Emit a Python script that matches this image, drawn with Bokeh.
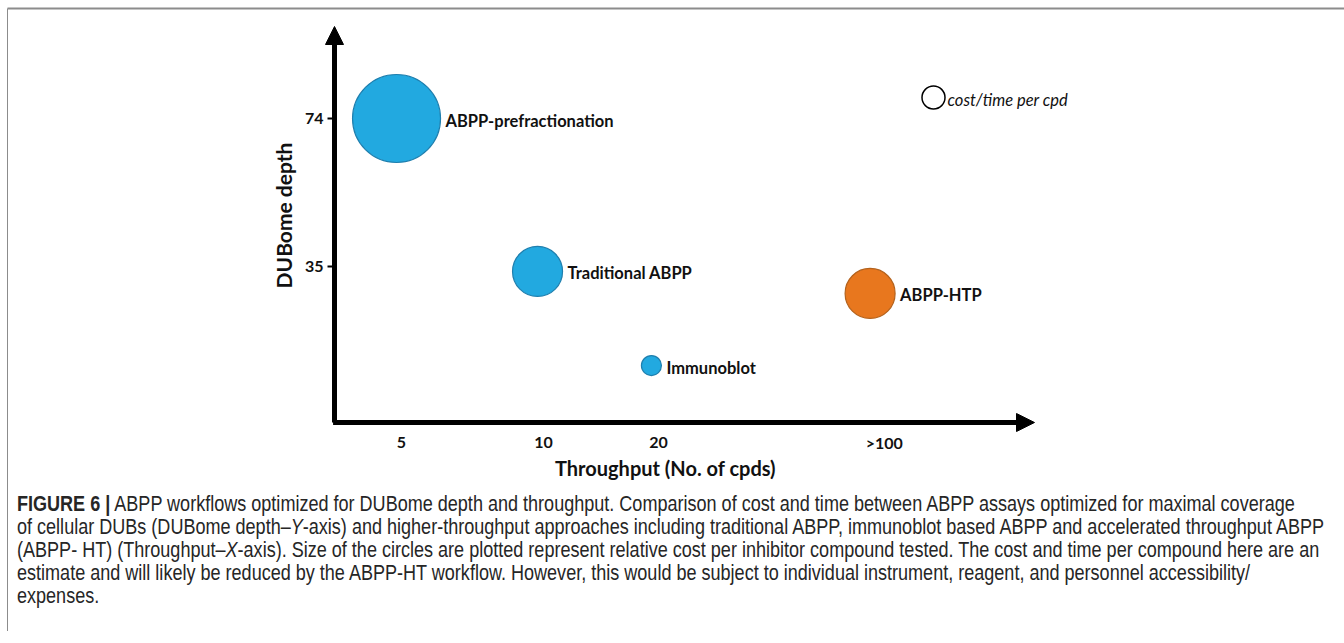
from bokeh.plotting import figure
from bokeh.models import Range1d, Arrow, NormalHead, Div, ColumnDataSource
from bokeh.layouts import column
from bokeh.core.properties import value
from bokeh.embed import file_html
from bokeh.resources import INLINE

# ---------------- data ----------------
throughput_labels = ["5", "10", "20", ">100"]
throughput_pos = [1.0, 2.0, 2.81, 4.40]
depth_ticks = [74, 35]
methods = ["ABPP-prefractionation", "Traditional ABPP", "Immunoblot", "ABPP-HTP"]
method_x = [0.965, 1.958, 2.76, 4.30]
method_depth = [74, 33.7, 8.9, 27.9]
method_cost = [88, 50, 20, 50]          # relative cost per cpd (circle diameter)
BLUE, ORANGE = "#22A9E0", "#E8771E"
method_fill = [BLUE, BLUE, BLUE, ORANGE]
method_line = ["#1F7FAE", "#1F7FAE", "#1F7FAE", "#B4621C"]

# ---------------- layout helpers (pixel -> data) ----------------
W, H = 1344, 480
def dx(px):
    return 1 + (px - 401) / 142.0
def dy(py):
    return 74 - (py - 118) / 3.795

FONT = value("Lato")
p = figure(width=W, height=H, x_range=Range1d(dx(0), dx(W)), y_range=Range1d(dy(H), dy(0)),
           x_axis_location=None, y_axis_location=None, toolbar_location=None,
           output_backend="svg", min_border=0, outline_line_color=None,
           background_fill_color="white", border_fill_color="white")
p.grid.visible = False

# frame lines of the figure panel
p.segment(x0=[dx(7)], y0=[dy(8)], x1=[dx(W)], y1=[dy(8)], line_color="#8C8C8C", line_width=2)
p.segment(x0=[dx(7)], y0=[dy(8)], x1=[dx(7)], y1=[dy(H)], line_color="#8C8C8C", line_width=1)

# axes arrows
x0, y0 = dx(334), dy(422)
p.add_layout(Arrow(end=NormalHead(size=18, fill_color="black", line_color="black"),
                   x_start=x0, y_start=y0, x_end=x0, y_end=dy(26), line_width=5, line_color="black"))
p.add_layout(Arrow(end=NormalHead(size=18, fill_color="black", line_color="black"),
                   x_start=x0 - 0.01, y_start=y0, x_end=dx(1034), y_end=y0, line_width=5, line_color="black"))

# y ticks
p.segment(x0=[dx(327)] * len(depth_ticks), y0=depth_ticks, x1=[x0] * len(depth_ticks), y1=depth_ticks,
          line_color="black", line_width=2)
p.text(x=[dx(323)] * len(depth_ticks), y=depth_ticks, text=[str(t) for t in depth_ticks],
       text_align="right", text_baseline="middle", text_font=FONT, text_font_style="bold",
       text_font_size="16px", text_color="#111111")
# x tick labels
p.text(x=throughput_pos, y=[dy(442)] * len(throughput_pos), text=throughput_labels,
       text_align="center", text_baseline="middle", text_font=FONT, text_font_style="bold",
       text_font_size="16px", text_color="#111111")

# axis titles
p.text(x=[dx(665)], y=[dy(467)], text=["Throughput (No. of cpds)"], text_align="center",
       text_baseline="middle", text_font=FONT, text_font_style="bold", text_font_size="20px",
       text_color="#111111")
p.text(x=[dx(283)], y=[dy(215)], text=["DUBome depth"], angle=1.5708, text_align="center",
       text_baseline="middle", text_font=FONT, text_font_style="bold", text_font_size="21px",
       text_color="#111111")

# bubbles
src = ColumnDataSource(dict(x=method_x, y=method_depth, size=method_cost, fill=method_fill,
                            line=method_line, name=methods,
                            off=[c / 2 + 5 for c in method_cost]))
p.scatter("x", "y", size="size", marker="circle", fill_color="fill", line_color="line",
          line_width=1.2, source=src)
p.text("x", "y", text="name", x_offset="off", y_offset=2, source=src, text_align="left",
       text_baseline="middle", text_font=FONT, text_font_style="bold", text_font_size="16.5px",
       text_color="#111111")

# size legend
p.scatter([dx(933)], [dy(97)], size=23, marker="circle", fill_color="white", line_color="black",
          line_width=1.5)
p.text([dx(947)], [dy(99)], text=["cost/time per cpd"], text_align="left", text_baseline="middle",
       text_font=FONT, text_font_style="italic", text_font_size="16.5px", text_color="#111111")

# ---------------- caption ----------------
cap_lines = [
    "<b>FIGURE 6 |</b> ABPP workflows optimized for DUBome depth and throughput. Comparison of cost and time between ABPP assays optimized for maximal coverage",
    "of cellular DUBs (DUBome depth\u2013<i>Y</i>-axis) and higher-throughput approaches including traditional ABPP, immunoblot based ABPP and accelerated throughput ABPP",
    "(ABPP- HT) (Throughput\u2013<i>X</i>-axis). Size of the circles are plotted represent relative cost per inhibitor compound tested. The cost and time per compound here are an",
    "estimate and will likely be reduced by the ABPP-HT workflow. However, this would be subject to individual instrument, reagent, and personnel accessibility/",
    "expenses.",
]
html = ("<div style=\"border-left:1px solid #8C8C8C; margin-left:7px; padding-left:9px; padding-top:12px;"
        " height:151px; width:1320px; overflow:hidden;\">"
        "<div style=\"display:inline-block; transform:scaleX(0.82); transform-origin:left top;"
        " font-family:'Liberation Sans',Arial,sans-serif;"
        " font-size:22px; line-height:23px; color:#262626; white-space:nowrap;\">"
        + "<br>".join(cap_lines) + "</div></div>")
cap = Div(text=html, width=W, height=643 - H, margin=0)

layout = column(p, cap, spacing=0)
open("out.html", "w").write(file_html(layout, INLINE))
